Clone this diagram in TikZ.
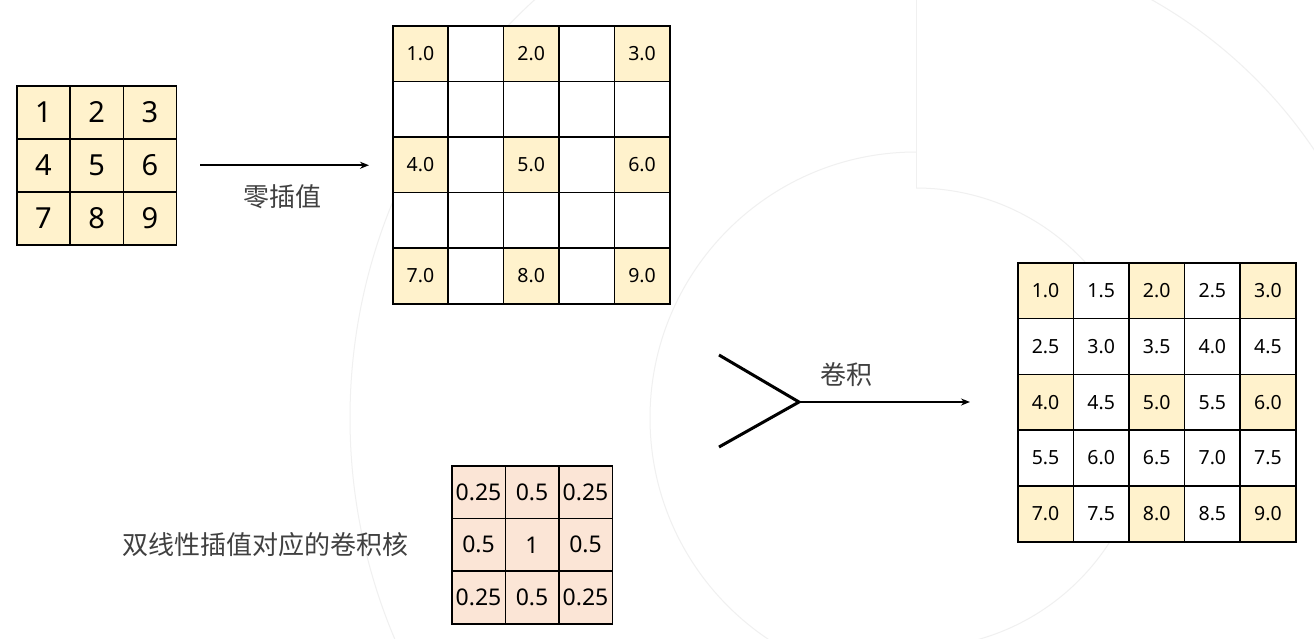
\documentclass[tikz,border=0pt]{standalone}
\usepackage{fontspec}
\setmainfont{Noto Sans}
\newfontfamily\cjk{Noto Sans CJK SC}
\usetikzlibrary{arrows.meta}
\definecolor{cream}{HTML}{FFF2CC}
\definecolor{peach}{HTML}{FBE5D6}
\definecolor{labelgray}{HTML}{404040}
\definecolor{faint}{HTML}{F0F0F0}
\tikzset{
  cell/.style={draw=black, line width=1.5pt, inner sep=0pt, anchor=north west},
  arr/.style={-{Stealth[length=9pt,width=7pt]}, line width=2.4pt},
  lbl/.style={text=labelgray, font=\cjk\fontsize{26}{26}\selectfont},
}
\begin{document}
\begin{tikzpicture}[x=1pt, y=-1pt]
  \clip (0,0) rectangle (1314,638);
  \fill[white] (0,0) rectangle (1314,638);
  % faint background arcs
  \begin{scope}[faint, line width=1pt]
    \begin{scope}
      \clip (916,-10) rectangle (-10,700);
      \draw (916,418) circle[radius=566];
      \draw (916,418) circle[radius=266];
    \end{scope}
    \begin{scope}
      \clip (916,-10) rectangle (1400,700);
      \draw (916,418) circle[radius=480];
      \draw (916,418) circle[radius=230];
    \end{scope}
    \draw (916,0) -- (916,188);
  \end{scope}
  % input 3x3
  \foreach \r in {1,2,3}
    \foreach \c in {1,2,3} {
      \pgfmathtruncatemacro\v{(\r-1)*3+\c}
      \node[cell, fill=cream, minimum width=53.3pt, minimum height=53pt,
            font=\fontsize{29}{29}\selectfont]
        (a-\r-\c) at ({16+(\c-1)*53.3},{85+(\r-1)*53}) {\v};
    }
  % zero insertion 5x5
  \foreach \r in {1,...,5}
    \foreach \c in {1,...,5} {
      \pgfmathtruncatemacro\odd{and(isodd(\r),isodd(\c))}
      \ifnum\odd=1
        \pgfmathtruncatemacro\v{(\r-1)/2*3+(\c+1)/2}
        \node[cell, fill=cream, minimum width=55.4pt, minimum height=55.6pt,
              font=\fontsize{19.5}{19.5}\selectfont]
          (b-\r-\c) at ({392+(\c-1)*55.4},{25+(\r-1)*55.6}) {\v.0};
      \else
        \node[cell, fill=white, minimum width=55.4pt, minimum height=55.6pt]
          (b-\r-\c) at ({392+(\c-1)*55.4},{25+(\r-1)*55.6}) {};
      \fi
    }
  % result 5x5
  \foreach \r in {1,...,5}
    \foreach \c in {1,...,5} {
      \pgfmathtruncatemacro\odd{and(isodd(\r),isodd(\c))}
      \pgfmathsetmacro\v{1+(\c-1)*0.5+(\r-1)*1.5}
      \ifnum\odd=1 \def\shade{cream}\else \def\shade{white}\fi
      \node[cell, fill=\shade, minimum width=55.6pt, minimum height=55.8pt,
            font=\fontsize{19.5}{19.5}\selectfont]
        (c-\r-\c) at ({1017+(\c-1)*55.6},{262+(\r-1)*55.8})
        {\pgfmathprintnumber[fixed, precision=1, fixed zerofill, assume math mode=true]{\v}};
    }
  % kernel 3x3
  \foreach \r/\row in {1/{0.25,0.5,0.25}, 2/{0.5,1,0.5}, 3/{0.25,0.5,0.25}} {
    \foreach \v [count=\c] in \row {
      \node[cell, fill=peach, minimum width=53.5pt, minimum height=52.7pt,
            font=\fontsize{23}{23}\selectfont]
        (k-\r-\c) at ({451+(\c-1)*53.5},{465+(\r-1)*52.7}) {\v};
    }
  }
  % labels
  \node[lbl] (zero) at (282,197) {零插值};
  \node[lbl] (conv) at (846,375) {卷积};
  \node[lbl] (kern) at (265,545) {双线性插值对应的卷积核};
  % connectors
  \draw[arr, shorten <=23pt, shorten >=23pt] (a-2-3.east) -- (a-2-3.east -| b-3-1.west);
  \coordinate (fork) at (799,402);
  \coordinate (in1) at (719,355);
  \coordinate (in2) at (719,447);
  \draw[line width=3pt] (in1) -- (fork) -- (in2);
  \draw[arr, shorten >=47pt] (fork) -- (fork -| c-3-1.west);
\end{tikzpicture}
\end{document}
